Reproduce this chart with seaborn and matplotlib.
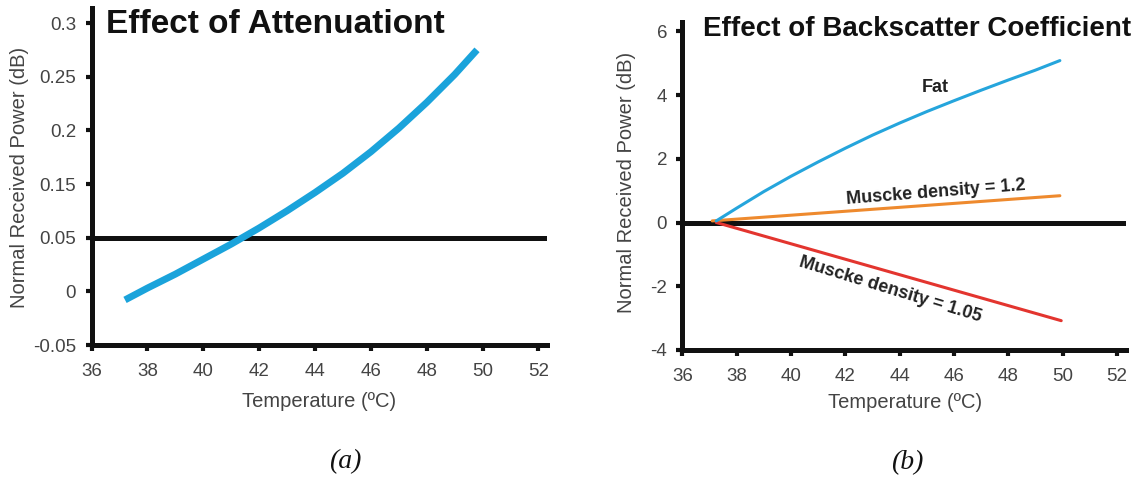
import numpy as np
import pandas as pd
import seaborn as sns
import matplotlib.pyplot as plt

# Data (a): attenuation effect, y in axis position units (tick labels skip 0.1 in the source)
att_temp = [37.2, 38, 39, 40, 41, 42, 43, 44, 45, 46, 47, 48, 49, 49.8]
att_power = [0.042, 0.053, 0.066, 0.080, 0.094, 0.109, 0.125, 0.142, 0.160,
             0.180, 0.202, 0.226, 0.252, 0.275]
att_ref = 0.1
att_yticks = [0.0, 0.05, 0.1, 0.15, 0.2, 0.25, 0.3]
att_yticklabels = ['-0.05', '0', '0.05', '0.15', '0.2', '0.25', '0.3']

# Data (b): backscatter coefficient effect
fat_temp = [37.25, 38, 39, 40, 41, 42, 43, 44, 45, 46, 47, 48, 49, 49.9]
fat_power = [0.05, 0.45, 0.97, 1.45, 1.9, 2.33, 2.74, 3.12, 3.48, 3.82, 4.15, 4.47, 4.78, 5.08]
m12_temp = [37.1, 49.9]
m12_power = [0.05, 0.84]
m105_temp = [37.25, 49.95]
m105_power = [0.0, -3.08]
bs_yticks = [-4, -2, 0, 2, 4, 6]

xticks = [36, 38, 40, 42, 44, 46, 48, 50, 52]

sns.set_style('ticks')
plt.rcParams['font.family'] = ['Liberation Sans', 'DejaVu Sans']
plt.rcParams['axes.unicode_minus'] = False

W, H = 1140, 482
fig = plt.figure(figsize=(W / 100, H / 100), dpi=100)

def px_axes(l, t, r, b):
    return fig.add_axes([l / W, 1 - b / H, (r - l) / W, (b - t) / H])

ax1 = px_axes(91.5, 8, 547.4, 345)
ax2 = px_axes(682.3, 21.7, 1125.6, 350)

spine_w = 3.6
txt_col = '#444444'

def style_axes(ax):
    for s in ['top', 'right']:
        ax.spines[s].set_visible(False)
    for s in ['left', 'bottom']:
        ax.spines[s].set_linewidth(spine_w)
        ax.spines[s].set_color('#111111')
    ax.tick_params(direction='out', length=4, width=3, color='#111111',
                   labelsize=13.5, labelcolor=txt_col, pad=7)
    ax.tick_params(axis='x', pad=9)
    ax.set_xticks(xticks)
    ax.set_xlim(36, 52.32)
    ax.grid(False)

# (a)
style_axes(ax1)
ax1.axhline(att_ref, color='#111111', lw=3.6, zorder=2)
sns.lineplot(x=att_temp, y=att_power, ax=ax1, color='#1aa3db', lw=5,
             solid_capstyle='butt', zorder=3)
ax1.set_ylim(0, 0.314)
ax1.set_yticks(att_yticks)
ax1.set_yticklabels(att_yticklabels)
ax1.set_xlabel('Temperature (ºC)', fontsize=14.5, color=txt_col)
ax1.set_ylabel('Normal Received Power (dB)', fontsize=14.5, color=txt_col)
ax1.xaxis.set_label_coords(0.5, -0.169)
ax1.yaxis.set_label_coords(-0.1575, 0.496)
ax1.xaxis.label.set_va('center')
ax1.yaxis.label.set_va('center')
fig.text(106 / W, 1 - 9 / H, 'Effect of Attenuationt', fontsize=24,
         fontweight='bold', color='#111111', va='top', ha='left')

# (b)
style_axes(ax2)
ax2.axhline(0, color='#111111', lw=3.6, zorder=2)
sns.lineplot(x=m12_temp, y=m12_power, ax=ax2, color='#ee8a2e', lw=2.2, zorder=3)
sns.lineplot(x=m105_temp, y=m105_power, ax=ax2, color='#e3352f', lw=2.2, zorder=3)
sns.lineplot(x=fat_temp, y=fat_power, ax=ax2, color='#25a5dc', lw=2.2, zorder=4)
ax2.set_ylim(-4, 6.3)
ax2.set_yticks(bs_yticks)
ax2.set_xlabel('Temperature (ºC)', fontsize=14.5, color=txt_col)
ax2.set_ylabel('Normal Received Power (dB)', fontsize=14.5, color=txt_col)
ax2.xaxis.set_label_coords(0.502, -0.161)
ax2.yaxis.set_label_coords(-0.125, 0.509)
ax2.xaxis.label.set_va('center')
ax2.yaxis.label.set_va('center')
ax2.text(45.3, 4.24, 'Fat', fontsize=13, fontweight='bold', color='#222222',
         ha='center', va='center')
ax2.text(45.32, 0.95, 'Muscke density = 1.2', fontsize=13, fontweight='bold',
         color='#222222', ha='center', va='center', rotation=4.5)
ax2.text(43.67, -2.12, 'Muscke density = 1.05', fontsize=13, fontweight='bold',
         color='#222222', ha='center', va='center', rotation=-17)
fig.text(703 / W, 1 - 16 / H, 'Effect of Backscatter Coefficient', fontsize=20,
         fontweight='bold', color='#111111', va='top', ha='left')

# sub captions
for xc, yc, lab in [(345, 462, '(a)'), (907, 463, '(b)')]:
    fig.text(xc / W, 1 - yc / H, lab, fontsize=20, family='Liberation Serif',
             style='italic', ha='center', va='center', color='#111111')

fig.savefig('out.png', dpi=100)
